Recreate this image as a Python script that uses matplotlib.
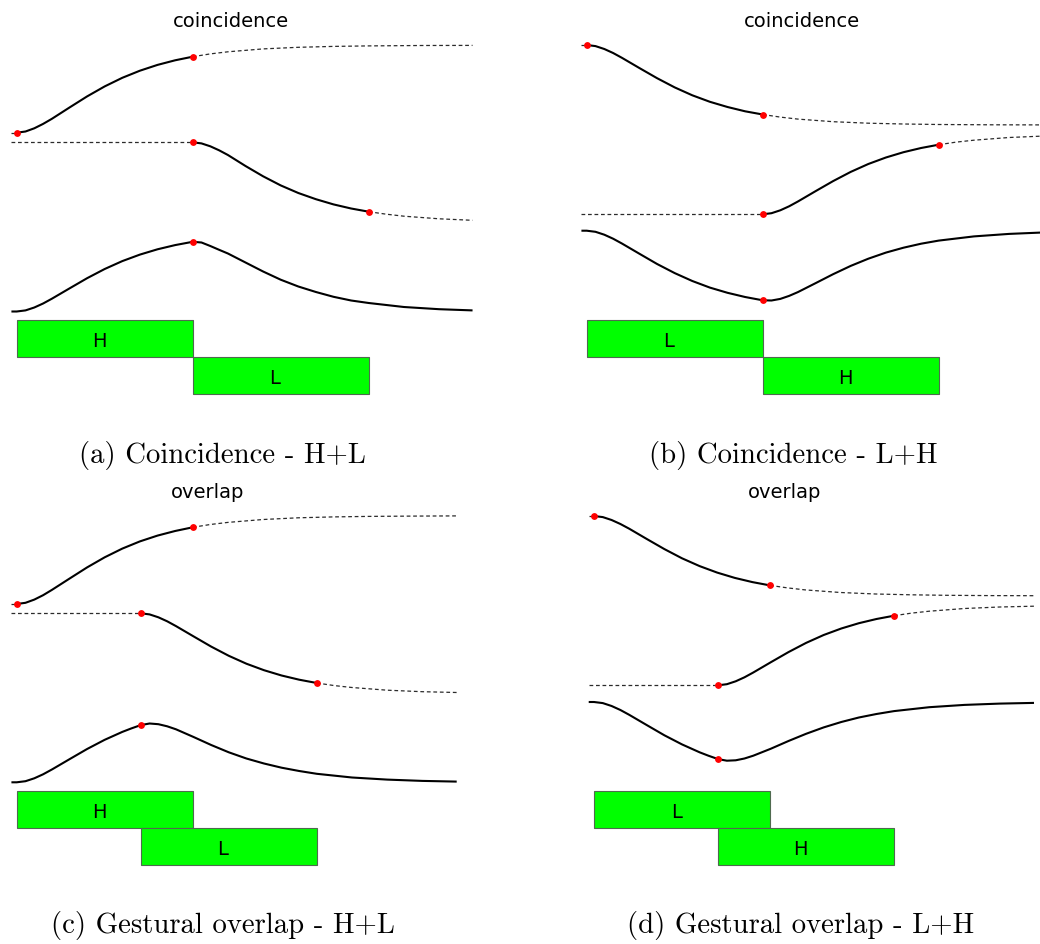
"""
Tonal gesture timing: coincidence vs. gestural overlap for H+L and L+H.

Four panels. Each shows the two gesture tracks (solid while active, dashed outside),
the resulting contour below them, and the activation intervals as green boxes.
Track values are in panel pixel rows (0 = top of panel), time in arbitrary units
(one gesture = 100 units).
"""
import matplotlib

matplotlib.use("Agg")
import matplotlib.pyplot as plt
import numpy as np
from matplotlib.patches import Rectangle

BLACK = "#000000"
RED = "#FF0000"
GREEN = "#00FF00"
BOX_EDGE = "#4F6A4F"
DASH_GREY = "#2B2B2B"

FIG_W, FIG_H = 1040, 944
PX_PER_UNIT = 1.76

# --- time grids -------------------------------------------------------------
T1_AB = [-3, 0, 5, 10, 15, 20, 30, 40, 50, 60, 70, 80, 90, 100, 110, 120, 140, 160, 180, 200, 230, 259]
T2_AB = [-3, 0, 50, 100, 105, 110, 115, 120, 130, 140, 150, 160, 170, 180, 190, 200, 210, 220, 240, 259]
T3_AB = [-3, 0, 5, 10, 15, 20, 30, 40, 50, 60, 70, 80, 90, 100, 105, 110, 115, 120, 130, 140,
         150, 160, 170, 180, 190, 200, 220, 240, 259]
T1_CD = [-3, 0, 5, 10, 15, 20, 30, 40, 50, 60, 70, 80, 90, 100, 110, 120, 140, 160, 180, 200, 225, 250]
T2_CD = [-3, 0, 35, 70.5, 75.5, 80.5, 85.5, 90.5, 100.5, 110.5, 120.5, 130.5, 140.5, 150.5, 160.5,
         170.5, 180.5, 190.5, 210.5, 230.5, 250]
T3_CD = [-3, 0, 5, 10, 15, 20, 30, 40, 50, 60, 65, 70.5, 75.5, 80.5, 85.5, 90.5, 100.5, 110.5, 120.5,
         130.5, 140.5, 150.5, 160.5, 170.5, 190.5, 210.5, 230.5, 250]

# --- (a) coincidence H+L -------------------------------------------------------
A_LABELS = ["H", "L"]
A_ON = [0, 100]
A_OFF = [100, 200]
A_Y1 = [132.7, 132.7, 131.5, 128.3, 123.9, 118.8, 107.5, 96.4, 86.4, 77.8, 70.7, 64.9, 60.3, 56.7,
        53.9, 51.8, 48.9, 47.3, 46.4, 45.9, 45.5, 45.4]
A_Y2 = [142.3, 142.3, 142.3, 142.3, 143.4, 146.3, 150.3, 155.0, 166.0, 176.3, 185.4, 193.0, 199.2,
        204.4, 208.5, 211.7, 214.2, 216.2, 218.8, 220.3]
A_Y3 = [311.5, 311.5, 310.4, 307.5, 303.5, 298.7, 288.4, 278.2, 269.0, 261.1, 254.6, 249.3, 245.1,
        241.8, 242.5, 246.0, 249.8, 253.5, 262.5, 271.5, 279.7, 286.5, 292.0, 296.8, 300.5, 303.0,
        307.0, 309.2, 310.4]

# --- (b) coincidence L+H -------------------------------------------------------
B_LABELS = ["L", "H"]
B_ON = [0, 100]
B_OFF = [100, 200]
B_Y1 = [45.0, 45.0, 46.1, 49.0, 53.0, 57.8, 68.1, 78.2, 87.4, 95.3, 101.8, 107.0, 111.3, 114.5,
        117.1, 119.1, 121.7, 123.2, 124.0, 124.5, 124.8, 124.9]
B_Y2 = [214.3, 214.3, 214.3, 214.3, 213.2, 210.3, 206.3, 201.5, 191.2, 181.1, 171.9, 164.0, 157.5,
        152.2, 148.0, 144.7, 142.1, 140.2, 137.5, 136.1]
B_Y3 = [230.7, 230.7, 231.8, 234.7, 238.7, 243.5, 253.8, 264.0, 273.1, 281.0, 287.6, 292.8, 297.0,
        300.3, 300.5, 298.9, 295.9, 292.1, 283.2, 274.2, 265.9, 258.7, 252.6, 247.7, 243.7, 240.6,
        236.4, 233.9, 232.5]

# --- (c) gestural overlap H+L ----------------------------------------------------
C_LABELS = ["H", "L"]
C_ON = [0, 70.5]
C_OFF = [100, 170.5]
C_Y1 = [134.0, 134.0, 132.8, 129.6, 125.2, 119.9, 108.6, 97.4, 87.3, 78.6, 71.4, 65.6, 61.0, 57.3,
        54.5, 52.4, 49.5, 47.8, 46.9, 46.4, 46.1, 45.9]
C_Y2 = [143.3, 143.3, 143.3, 143.3, 144.4, 147.3, 151.3, 156.1, 166.4, 176.6, 185.8, 193.7, 200.2,
        205.5, 209.7, 213.0, 215.6, 217.5, 220.2, 221.7, 222.5]
C_Y3 = [312.3, 312.3, 311.2, 308.3, 304.3, 299.5, 289.2, 279.0, 269.8, 261.9, 258.5, 255.1, 253.5,
        254.2, 256.3, 259.3, 267.0, 275.0, 282.3, 288.5, 293.5, 297.7, 301.0, 303.8, 307.5, 309.6,
        310.9, 311.6]

# --- (d) gestural overlap L+H ----------------------------------------------------
D_LABELS = ["L", "H"]
D_ON = [0, 70.5]
D_OFF = [100, 170.5]
D_Y1 = [46.0, 46.0, 47.1, 50.0, 54.0, 58.7, 69.0, 79.1, 88.3, 96.1, 102.6, 107.9, 112.1, 115.4,
        117.9, 119.9, 122.5, 124.0, 124.8, 125.3, 125.6, 125.7]
D_Y2 = [215.3, 215.3, 215.3, 215.3, 214.2, 211.3, 207.3, 202.5, 192.2, 182.1, 172.9, 165.0, 158.5,
        153.2, 149.0, 145.7, 143.1, 141.2, 138.5, 137.0, 136.2]
D_Y3 = [232.0, 232.0, 233.1, 236.0, 240.0, 244.8, 255.1, 265.3, 274.4, 282.3, 285.7, 289.1, 290.7,
        290.3, 288.5, 285.7, 278.7, 271.0, 263.8, 257.4, 252.0, 247.5, 244.0, 241.1, 237.2, 234.9,
        233.6, 232.9]

TITLES = ["coincidence", "coincidence", "overlap", "overlap"]
CAPTIONS = [
    "(a) Coincidence - H+L",
    "(b) Coincidence - L+H",
    "(c) Gestural overlap - H+L",
    "(d) Gestural overlap - L+H",
]

SOLID = dict(color=BLACK, lw=1.5, solid_capstyle="butt", solid_joinstyle="round", zorder=3)
DASHED = dict(color=DASH_GREY, lw=0.9, linestyle=(0, (3.0, 2.2)), zorder=2)
DOT = dict(marker="o", ms=3.9, color=RED, mec=RED, lw=0, zorder=5)


def value_at(t, y, when):
    return y[np.isclose(t, when)][0]


def draw_track(ax, t, y, on, off):
    t = np.asarray(t, float)
    y = np.asarray(y, float)
    pre, post = t <= on, t >= off
    active = (t >= on) & (t <= off)
    ax.plot(t[pre], y[pre], **DASHED)
    ax.plot(t[post], y[post], **DASHED)
    ax.plot(t[active], y[active], **SOLID)
    ax.plot([on, off], [value_at(t, y, on), value_at(t, y, off)], **DOT)


def draw_output(ax, t, y, mark):
    t = np.asarray(t, float)
    y = np.asarray(y, float)
    ax.plot(t, y, **SOLID)
    ax.plot([mark], [value_at(t, y, mark)], **DOT)


def draw_boxes(ax, labels, on, off, row_top, row_h):
    for i, (lab, a, b) in enumerate(zip(labels, on, off)):
        top = row_top + i * row_h
        ax.add_patch(Rectangle((a, top), b - a, row_h, facecolor=GREEN,
                               edgecolor=BOX_EDGE, lw=0.8, zorder=1))
        ax.text((a + b) / 2 - 3.3, top + row_h - 9.8, lab, ha="center", va="baseline",
                fontsize=14, family="DejaVu Sans", color=BLACK)


def panel(fig, x0, y0, h, origin, t_grids, ys, labels, on, off, row_top):
    ax = fig.add_axes([x0 / FIG_W, 1 - (y0 + h) / FIG_H, 520 / FIG_W, h / FIG_H])
    ax.set_xlim(-origin / PX_PER_UNIT, (520 - origin) / PX_PER_UNIT)
    ax.set_ylim(h, 0)
    ax.axis("off")
    draw_track(ax, t_grids[0], ys[0], on[0], off[0])
    draw_track(ax, t_grids[1], ys[1], on[1], off[1])
    draw_output(ax, t_grids[2], ys[2], on[1])
    draw_boxes(ax, labels, on, off, row_top, 37)
    return ax


def fig_text(fig, x, y, s, **kw):
    fig.text(x / FIG_W, 1 - y / FIG_H, s, ha="center", va="baseline", **kw)


def main() -> None:
    fig = plt.figure(figsize=(FIG_W / 100, FIG_H / 100), dpi=100)
    fig.patch.set_facecolor("white")

    ab = (T1_AB, T2_AB, T3_AB)
    cd = (T1_CD, T2_CD, T3_CD)
    panel(fig, 0, 0, 470, 16.7, ab, (A_Y1, A_Y2, A_Y3), A_LABELS, A_ON, A_OFF, 319.5)
    panel(fig, 520, 0, 470, 66.7, ab, (B_Y1, B_Y2, B_Y3), B_LABELS, B_ON, B_OFF, 319.5)
    panel(fig, 0, 470, 474, 16.7, cd, (C_Y1, C_Y2, C_Y3), C_LABELS, C_ON, C_OFF, 320.5)
    panel(fig, 520, 470, 474, 74.0, cd, (D_Y1, D_Y2, D_Y3), D_LABELS, D_ON, D_OFF, 320.5)

    title_xy = [(231, 26.7), (801.5, 26.7), (207.5, 498.3), (785, 498.3)]
    caption_xy = [(222.5, 462.7), (793.3, 462.7), (222.5, 933.3), (800.2, 933.3)]
    for (x, y), s in zip(title_xy, TITLES):
        fig_text(fig, x, y, s, fontsize=14, family="DejaVu Sans")
    for (x, y), s in zip(caption_xy, CAPTIONS):
        fig_text(fig, x, y, s, fontsize=20.7, family="cmr10")

    fig.savefig("out.png", dpi=100, facecolor="white")


if __name__ == "__main__":
    main()
